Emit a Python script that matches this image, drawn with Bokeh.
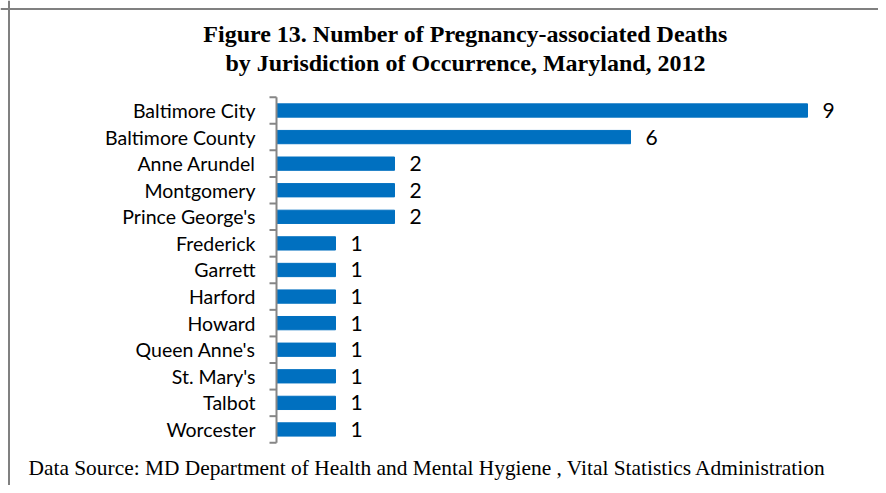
import math
from bokeh.plotting import figure
from bokeh.models import ColumnDataSource, Range1d, Label, Span
from bokeh.core.properties import value
from bokeh.embed import file_html
from bokeh.resources import INLINE

categories = ["Baltimore City", "Baltimore County", "Anne Arundel", "Montgomery",
              "Prince George's", "Frederick", "Garrett", "Harford", "Howard",
              "Queen Anne's", "St. Mary's", "Talbot", "Worcester"]
deaths = [9, 6, 2, 2, 2, 1, 1, 1, 1, 1, 1, 1, 1]
title_lines = ["Figure 13. Number of Pregnancy-associated Deaths",
               "by Jurisdiction of Occurrence, Maryland, 2012"]
source_note = "Data Source: MD Department of Health and Mental Hygiene , Vital Statistics Administration"

n = len(categories)
pos = list(range(1, n + 1))
bounds = [i + 0.5 for i in range(0, n + 1)]
src = ColumnDataSource(dict(y=pos, v=deaths, lab=[str(d) for d in deaths], cat=categories))

W, H = 878, 485
# pixel geometry of the plotting area (canvas coordinates)
x0_px, px_per_unit = 276, 59.0
y1_px, px_per_cat = 110, 26.58

p = figure(width=W, height=H, output_backend="svg", toolbar_location=None,
           x_range=Range1d(-x0_px / px_per_unit, (W - x0_px) / px_per_unit),
           y_range=Range1d(1 + (H - y1_px) / px_per_cat, 1 - y1_px / px_per_cat),
           x_axis_location=None, y_axis_location=None, min_border=0)
p.outline_line_color = None
p.xgrid.visible = False
p.ygrid.visible = False

# bars
p.hbar(y="y", right="v", left=0, height=0.5, source=src, color="#0070C0")
# value labels
p.text(x="v", y="y", text="lab", source=src, x_offset=15, text_baseline="middle",
       text_align="left", text_font=value("Lato"), text_font_size="21px", text_color="#000000")
# category axis: line, boundary ticks, labels
p.segment(x0=[0], y0=[bounds[0]], x1=[0], y1=[bounds[-1]], line_color="#868686", line_width=2)
p.ray(x=[0] * len(bounds), y=bounds, length=7, length_units="screen", angle=math.pi,
      line_color="#868686", line_width=2)
p.text(x=0, y="y", text="cat", source=src, x_offset=-21, text_baseline="middle",
       text_align="right", text_font=value("Lato"), text_font_size="19.5px", text_color="#000000")

# chart border (left and top)
p.add_layout(Span(location=8.5, dimension="height", location_units="screen",
                  line_color="#808080", line_width=2))
p.add_layout(Span(location=H - 8.5, dimension="width", location_units="screen",
                  line_color="#808080", line_width=2))

# title and source
for i, t in enumerate(title_lines):
    p.add_layout(Label(x=465, y=H - 33 - 29 * i, x_units="screen", y_units="screen", text=t,
                       text_align="center", text_baseline="middle", text_font="Liberation Serif",
                       text_font_style="bold", text_font_size="24px", text_color="#000000"))
p.add_layout(Label(x=28, y=H - 467, x_units="screen", y_units="screen", text=source_note,
                   text_align="left", text_baseline="middle", text_font="Liberation Serif",
                   text_font_size="21.4px", text_color="#000000"))

open("out.html", "w").write(file_html(p, INLINE))
